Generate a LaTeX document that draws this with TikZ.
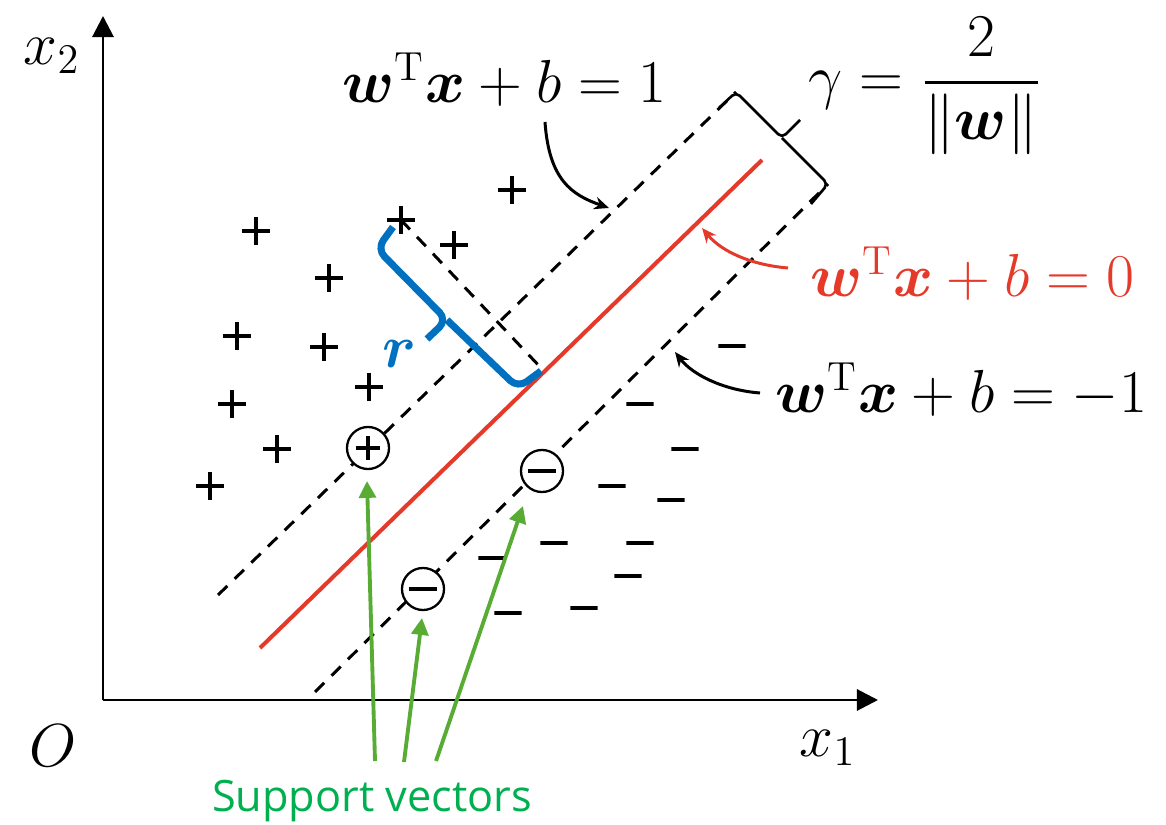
\documentclass[tikz,border=0pt]{standalone}
\usepackage{amsmath,amssymb}
\usepackage{fontspec}
\newfontfamily\svfont{Open Sans}
\usetikzlibrary{arrows.meta,calc}
\definecolor{svmred}{RGB}{229,57,42}
\definecolor{svmblue}{RGB}{0,112,192}
\definecolor{svmgreen}{RGB}{88,172,52}
\definecolor{svmtext}{RGB}{0,176,80}
\begin{document}
\begin{tikzpicture}[x=0.01cm,y=-0.01cm,
  lbl/.style={font=\fontsize{16.5}{20}\selectfont, inner sep=0pt},
  axisline/.style={line width=0.85pt, -{Triangle[length=6pt,width=6pt]}},
  margin/.style={line width=0.85pt, dash pattern=on 3.7pt off 2.9pt},
  posmark/.style={minimum size=0.28cm, inner sep=0pt, outer sep=0pt,
    path picture={\draw[line width=1.05pt] (path picture bounding box.north) -- (path picture bounding box.south)
      (path picture bounding box.west) -- (path picture bounding box.east);}},
  negmark/.style={minimum width=0.27cm, minimum height=0.08cm, inner sep=0pt, outer sep=0pt,
    path picture={\draw[line width=1.05pt] (path picture bounding box.west) -- (path picture bounding box.east);}},
  circpos/.style={circle, draw, fill=white, line width=0.65pt, minimum size=0.42cm, inner sep=0pt,
    path picture={\draw[line width=1pt] ([xshift=-0.12cm]path picture bounding box.center) -- ([xshift=0.12cm]path picture bounding box.center)
      ([yshift=-0.12cm]path picture bounding box.center) -- ([yshift=0.12cm]path picture bounding box.center);}},
  circneg/.style={circle, draw, fill=white, line width=0.65pt, minimum size=0.42cm, inner sep=0pt,
    path picture={\draw[line width=1pt] ([xshift=-0.14cm]path picture bounding box.center) -- ([xshift=0.14cm]path picture bounding box.center);}},
  garrow/.style={draw=svmgreen, line width=1.1pt, -{Triangle[length=4.8pt,width=4.8pt,fill=svmgreen]}},
  curvearrow/.style={line width=0.85pt, -{Stealth[length=4.2pt,width=3.6pt]}},
  bracket/.style={line width=0.75pt, rounded corners=1.5pt},
]
\useasboundingbox (0,0) rectangle (1166,825);

% axes
\coordinate (orig) at (103,700);
\coordinate (yend) at (103,16);
\coordinate (xend) at (878,700);
\draw[axisline] (orig) -- (yend);
\draw[axisline] (orig) -- (xend);
\node[lbl] (x2) at (52,56) {$x_2$};
\node[lbl] (x1) at (828,748) {$x_1$};
\node[lbl] (O) at (53,746) {$O$};

% lines
\coordinate (ua) at (218,595);
\coordinate (ub) at (736,92);
\coordinate (ra) at (260,648);
\coordinate (rb) at (762,160);
\coordinate (la) at (315,692);
\coordinate (lb) at (828,184);
\draw[margin] (ua) -- (ub);
\draw[margin] (la) -- (lb);
\draw[svmred, line width=1.15pt] (ra) -- (rb);

% gamma bracket
\coordinate (g1) at (719,108);
\coordinate (gm) at (782,138);
\coordinate (gt) at (800,120);
\coordinate (g2) at (811,204);
\draw[bracket] (g1) -- (ub) -- (gm) -- (gt);
\draw[bracket] (gm) -- (lb) -- (g2);

% positive points
\node[posmark] (p1) at (256,231) {};
\node[posmark] (p2) at (401,220) {};
\node[posmark] (p3) at (454,245) {};
\node[posmark] (p4) at (512,190) {};
\node[posmark] (p5) at (329,278) {};
\node[posmark] (p6) at (237,336) {};
\node[posmark] (p7) at (324,347) {};
\node[posmark] (p8) at (369,387) {};
\node[posmark] (p9) at (232,404) {};
\node[posmark] (p10) at (277,449) {};
\node[posmark] (p11) at (210,486) {};

% negative points
\node[negmark] (m1) at (732,346) {};
\node[negmark] (m2) at (640,404) {};
\node[negmark] (m3) at (685,449) {};
\node[negmark] (m4) at (612,486) {};
\node[negmark] (m5) at (671,500) {};
\node[negmark] (m6) at (554,543) {};
\node[negmark] (m7) at (640,543) {};
\node[negmark] (m8) at (492,558) {};
\node[negmark] (m9) at (628,576) {};
\node[negmark] (m10) at (508,613) {};
\node[negmark] (m11) at (584,608) {};

% distance r
\coordinate (foot) at (543,370);
\draw[margin] (p2.center) -- (foot);
\coordinate (b1) at (393,227);
\coordinate (bc1) at (377,249);
\coordinate (bm) at (447,320);
\coordinate (bt) at (427,339);
\coordinate (bc2) at (518,388);
\coordinate (b2) at (541,371);
\draw[svmblue, line width=2pt, rounded corners=3pt] (b1) -- (bc1) -- (bm) -- (bt);
\draw[svmblue, line width=2pt, rounded corners=3pt] (bm) -- (bc2) -- (b2);
\node[lbl, text=svmblue] (r) at (400,354) {$\boldsymbol{r}$};

% support vectors
\node[circpos] (c1) at (368,448) {};
\node[circneg] (c2) at (542,471) {};
\node[circneg] (c3) at (423,589) {};

% labels
\node[lbl, anchor=base west] (l1) at (342,103) {$\boldsymbol{w}^{\mathrm{T}}\boldsymbol{x}+b=1$};
\node[lbl, anchor=base west, text=svmred] (l0) at (810,297) {$\boldsymbol{w}^{\mathrm{T}}\boldsymbol{x}+b=0$};
\node[lbl, anchor=base west] (lm) at (775,413) {$\boldsymbol{w}^{\mathrm{T}}\boldsymbol{x}+b=-1$};
\node[lbl, anchor=west] (gam) at (808,86) {$\gamma=\dfrac{2}{\|\boldsymbol{w}\|}$};

% curved arrows
\coordinate (a1s) at (545,122);
\coordinate (a1e) at (609,208);
\draw[curvearrow] (a1s) .. controls (549,180) and (572,195) .. (a1e);
\coordinate (a0s) at (788,268);
\coordinate (a0e) at (702,228);
\draw[curvearrow, svmred] (a0s) .. controls (752,265) and (722,252) .. (a0e);
\coordinate (ams) at (760,393);
\coordinate (ame) at (675,352);
\draw[curvearrow] (ams) .. controls (722,390) and (692,374) .. (ame);

% support vector text and arrows
\node[font=\svfont\fontsize{12.3}{15}\selectfont, text=svmtext] (sv) at (372,801) {Support vectors};
\coordinate (s1) at (375,761);
\coordinate (s2) at (404,762);
\coordinate (s3) at (436,761);
\coordinate (t1) at (367,481);
\coordinate (t2) at (422,618);
\coordinate (t3) at (523,506);
\draw[garrow] (s1) -- (t1);
\draw[garrow] (s2) -- (t2);
\draw[garrow] (s3) -- (t3);
\end{tikzpicture}
\end{document}
